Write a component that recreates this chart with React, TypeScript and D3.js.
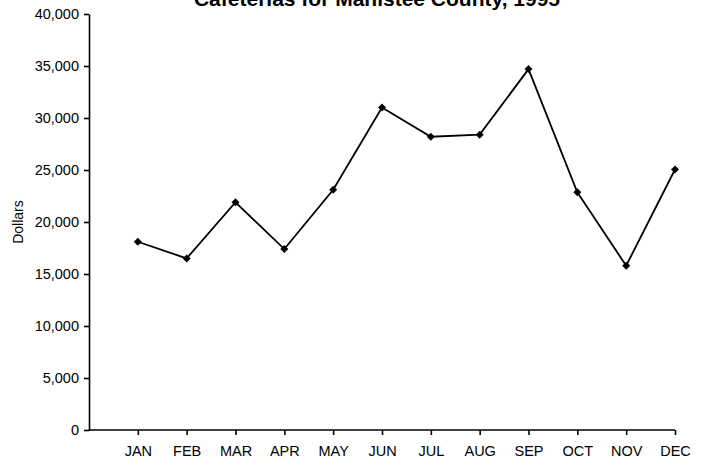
import React, { useEffect, useRef } from 'react';
import * as d3 from 'd3';

const months = ['JAN', 'FEB', 'MAR', 'APR', 'MAY', 'JUN', 'JUL', 'AUG', 'SEP', 'OCT', 'NOV', 'DEC'];
const dollars = [18100, 16500, 21900, 17400, 23100, 31000, 28200, 28400, 34700, 22850, 15800, 25050];
const yTicks = [0, 5000, 10000, 15000, 20000, 25000, 30000, 35000, 40000];
const title = 'Cafeterias for Manistee County, 1995';

const W = 707;
const H = 460;
const left = 89;
const right = 675;
const top = 14;
const bottom = 430;
const font = 'Arial, "Liberation Sans", sans-serif';

export default () => {
  const svgRef = useRef<SVGSVGElement>(null);

  useEffect(() => {
    if (!svgRef.current) return;
    const svg = d3.select(svgRef.current);
    svg.selectAll('*').remove();

    // leading blank slot so JAN sits one step right of the y axis
    const x = d3.scalePoint<string>().domain(['', ...months]).range([left, right]);
    const y = d3.scaleLinear().domain([0, 40000]).range([bottom, top]);

    const yAxis = svg.append('g')
      .attr('transform', `translate(${left},0)`)
      .call(d3.axisLeft(y).tickValues(yTicks).tickFormat(d3.format(',')).tickSize(5).tickSizeOuter(0).tickPadding(5));

    const xAxis = svg.append('g')
      .attr('transform', `translate(0,${bottom})`)
      .call(d3.axisBottom(x).tickValues(months).tickSize(5).tickSizeOuter(0).tickPadding(11));

    [yAxis, xAxis].forEach(g => {
      g.attr('font-size', null).attr('font-family', null);
      g.selectAll('path, line').attr('stroke', '#000').attr('stroke-width', 1.6);
      g.selectAll('text').attr('fill', '#000').style('font-family', font).style('font-size', '14.5px');
    });
    xAxis.select('path').attr('d', `M${left},0H${right}`);

    const line = d3.line<number>()
      .x((d, i) => x(months[i]) as number)
      .y(d => y(d));

    svg.append('path')
      .datum(dollars)
      .attr('d', line)
      .attr('fill', 'none')
      .attr('stroke', '#000')
      .attr('stroke-width', 1.8);

    svg.selectAll('path.pt')
      .data(dollars)
      .enter()
      .append('path')
      .attr('class', 'pt')
      .attr('d', d3.symbol(d3.symbolSquare, 32)())
      .attr('transform', (d, i) => `translate(${x(months[i])},${y(d)}) rotate(45)`)
      .attr('fill', '#000');

    svg.append('text')
      .attr('x', 377)
      .attr('y', 6)
      .attr('text-anchor', 'middle')
      .style('font-family', font)
      .style('font-weight', 'bold')
      .style('font-size', '21px')
      .text(title);

    svg.append('text')
      .attr('transform', `translate(23,222) rotate(-90)`)
      .attr('text-anchor', 'middle')
      .style('font-family', font)
      .style('font-size', '14px')
      .text('Dollars');
  }, []);

  return (
    <svg ref={svgRef} width={W} height={H} style={{ position: 'absolute', left: 0, top: 0, background: '#fff' }} />
  );
}
